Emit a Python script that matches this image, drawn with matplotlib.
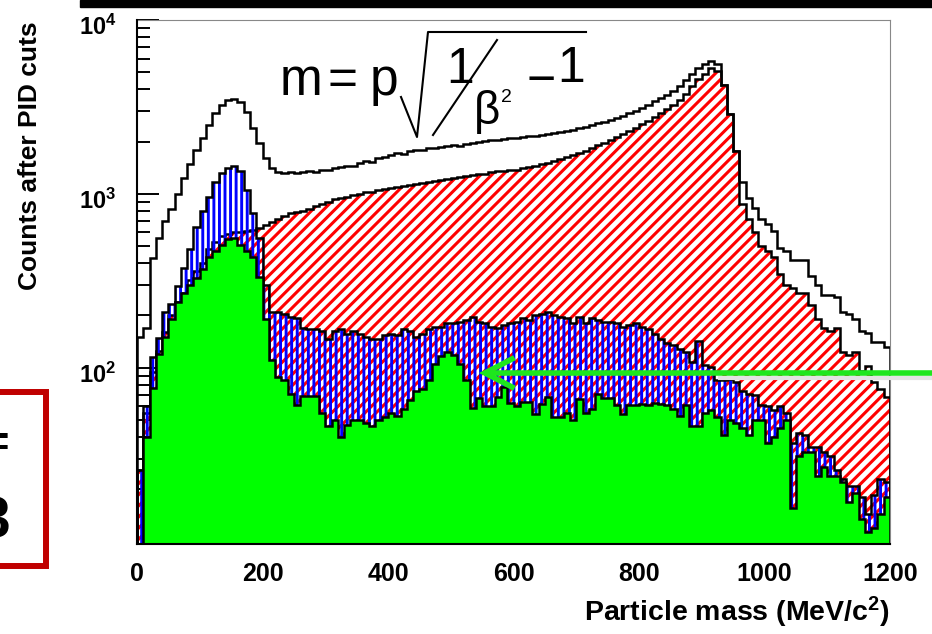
import numpy as np
import matplotlib
matplotlib.use("Agg")
import matplotlib.pyplot as plt
import matplotlib.transforms as mtransforms
from matplotlib.ticker import FixedLocator, NullFormatter
from matplotlib.lines import Line2D
from matplotlib.patches import Rectangle

plt.rcParams['font.family'] = ['Liberation Sans', 'DejaVu Sans']
plt.rcParams['mathtext.fontset'] = 'custom'
plt.rcParams['mathtext.rm'] = 'Liberation Sans'
plt.rcParams['mathtext.it'] = 'Liberation Sans:italic'
plt.rcParams['mathtext.bf'] = 'Liberation Sans:bold'
plt.rcParams['hatch.linewidth'] = 1.8

# ---- data: 10 MeV bins from 0 to 1200 MeV/c^2 ----
bin_edges = np.arange(0, 1201, 10)

total_counts = [150, 170, 430, 560, 700, 820, 1000, 1230, 1480, 1780,
                2100, 2500, 2900, 3250, 3450, 3520, 3380, 2950, 2400, 1950,
                1600, 1400, 1340, 1320, 1330, 1320, 1340, 1350, 1340, 1370,
                1380, 1400, 1420, 1450, 1440, 1500, 1540, 1530, 1600, 1640,
                1680, 1720, 1700, 1760, 1790, 1800, 1840, 1830, 1860, 1880,
                1900, 1890, 1940, 1960, 1990, 2010, 2050, 2040, 2080, 2090,
                2100, 2120, 2140, 2160, 2190, 2220, 2240, 2270, 2300, 2340,
                2390, 2440, 2480, 2540, 2590, 2660, 2740, 2820, 2910, 3000,
                3120, 3250, 3400, 3550, 3700, 3900, 4150, 4500, 4900, 5300,
                5600, 5800, 5550, 4250, 2870, 1770, 1170, 950, 830, 720,
                675, 615, 490, 467, 416, 416, 416, 338, 301, 262,
                262, 257, 209, 205, 191, 162, 158, 141, 141, 132]

red_counts = [26, 55, 95, 125, 160, 200, 240, 270, 320, 360,
              400, 480, 530, 570, 590, 600, 605, 610, 620, 635,
              660, 690, 720, 750, 780, 790, 800, 820, 850, 880,
              900, 930, 950, 960, 980, 1000, 1020, 1030, 1050, 1060,
              1080, 1094, 1110, 1130, 1140, 1160, 1170, 1180, 1200, 1220,
              1230, 1250, 1260, 1280, 1300, 1310, 1330, 1350, 1360, 1370,
              1380, 1400, 1420, 1450, 1480, 1510, 1540, 1580, 1620, 1670,
              1720, 1770, 1830, 1900, 1970, 2050, 2120, 2200, 2300, 2400,
              2520, 2640, 2760, 2900, 3060, 3250, 3450, 3750, 4150, 4550,
              4900, 5300, 5100, 4250, 2870, 1770, 870, 720, 600, 500,
              467, 436, 346, 301, 288, 269, 269, 229, 191, 170,
              162, 170, 123, 118, 123, 96, 103, 83, 76, 68]

blue_counts = [26, 60, 116, 148, 210, 234, 296, 375, 482, 648,
               797, 958, 1178, 1318, 1410, 1440, 1350, 1050, 780, 560,
               300, 210, 210, 205, 197, 193, 170, 167, 167, 163,
               147, 163, 167, 157, 163, 157, 150, 146, 147, 155,
               157, 155, 167, 163, 150, 157, 167, 171, 171, 180,
               180, 184, 188, 197, 184, 180, 171, 170, 176, 180,
               184, 193, 188, 200, 205, 210, 200, 197, 193, 180,
               197, 180, 193, 188, 184, 184, 180, 171, 176, 180,
               171, 167, 157, 147, 139, 135, 129, 124, 108, 143,
               104, 101, 85, 85, 86, 83, 74, 71, 70, 61,
               60, 57, 60, 55, 37, 42, 41, 35, 35, 33,
               31, 26, 23, 21, 21, 18, 14.5, 18.5, 23, 22]

green_counts = [0, 40, 77, 120, 150, 190, 240, 270, 300, 330,
                370, 436, 470, 510, 550, 560, 510, 470, 436, 333,
                190, 111, 88, 85, 71, 61, 69, 69, 69, 55,
                46, 50, 40, 47, 50, 50, 48, 46, 50, 52,
                55, 53, 58, 65, 74, 76, 85, 105, 117, 123,
                118, 105, 85, 59, 67, 60, 60, 68, 78, 63,
                60, 64, 64, 54, 62, 68, 52, 52, 55, 50,
                66, 55, 58, 71, 67, 67, 61, 54, 61, 61,
                62, 61, 63, 62, 61, 58, 53, 61, 46, 46,
                55, 57, 52, 41, 50, 48, 45, 41, 50, 50,
                37, 40, 45, 50, 15.6, 31, 33, 33, 24, 27,
                24, 24, 22, 17, 19, 13.5, 11.3, 12, 14.5, 18]

x_tick_values = [0, 200, 400, 600, 800, 1000, 1200]
y_tick_values = [100, 1000, 10000]
y_tick_labels = [r'$\mathbf{10^{2}}$', r'$\mathbf{10^{3}}$', r'$\mathbf{10^{4}}$']

W, H = 932, 634
fig = plt.figure(figsize=(W / 100, H / 100), dpi=100)
fig.patch.set_facecolor('white')


def fx(x):
    return x / W


def fy(y):
    return 1 - y / H


ax = fig.add_axes([fx(137), fy(544), fx(890) - fx(137), fy(20) - fy(544)])
ax.set_yscale('log')
ax.set_xlim(0, 1200)
ax.set_ylim(9.7, 10000)

BASE = 1.0


def clean(v):
    v = np.asarray(v, dtype=float)
    return np.where(v > 0, v, BASE)


outline_lw = 1.8
ax.stairs(clean(total_counts), bin_edges, baseline=BASE, color='black', lw=outline_lw, zorder=2)
with plt.rc_context({'hatch.linewidth': 2.2}):
    ax.stairs(clean(red_counts), bin_edges, baseline=BASE, fill=True, facecolor='none',
              edgecolor='#ff0000', hatch='///', linewidth=0, zorder=3)
ax.stairs(clean(red_counts), bin_edges, baseline=BASE, color='black', lw=outline_lw, zorder=4)
with plt.rc_context({'hatch.linewidth': 2.1}):
    ax.stairs(clean(blue_counts), bin_edges, baseline=BASE, fill=True, facecolor='none',
              edgecolor='#0000ff', hatch='|||', linewidth=0, zorder=5)
ax.stairs(clean(blue_counts), bin_edges, baseline=BASE, color='black', lw=outline_lw, zorder=6)
ax.stairs(clean(green_counts), bin_edges, baseline=BASE, fill=True, facecolor='#00ff00',
          edgecolor='none', linewidth=0, zorder=7)
ax.stairs(clean(green_counts), bin_edges, baseline=BASE, color='black', lw=outline_lw, zorder=8)

for s in ['top', 'right']:
    ax.spines[s].set_color('#888888')
    ax.spines[s].set_linewidth(0.8)
for s in ['left', 'bottom']:
    ax.spines[s].set_color('black')
    ax.spines[s].set_linewidth(1.5)
    ax.spines[s].set_zorder(20)

ax.set_xticks(x_tick_values)
ax.set_xticklabels([str(v) for v in x_tick_values], fontsize=18, fontweight='bold')
ax.xaxis.set_minor_locator(FixedLocator(np.arange(50, 1200, 50)))
ax.yaxis.set_major_locator(FixedLocator(y_tick_values))
ax.set_yticklabels(y_tick_labels, fontsize=17)
minor_y = [m * d for d in (10, 100, 1000) for m in range(2, 10)]
ax.yaxis.set_minor_locator(FixedLocator(minor_y))
ax.yaxis.set_minor_formatter(NullFormatter())
ax.tick_params(axis='x', which='major', direction='in', length=11, width=1.4, pad=13, top=False)
ax.tick_params(axis='x', which='minor', direction='in', length=6, width=1.4, top=False)
ax.tick_params(axis='y', which='major', direction='in', length=16, width=1.4, pad=15, right=False)
ax.tick_params(axis='y', which='minor', direction='in', length=9, width=1.4, right=False)
for t in ax.get_xticklines() + ax.get_yticklines():
    t.set_zorder(21)
shift = mtransforms.ScaledTranslation(0, -5 / 100, fig.dpi_scale_trans)
for lab in ax.get_yticklabels():
    lab.set_transform(lab.get_transform() + shift)

# axis titles
fig.text(fx(30), fy(21), 'Counts after PID cuts', rotation=90, ha='center', va='top',
         fontsize=19, fontweight='bold')
fig.text(fx(890), fy(612), r'Particle mass (MeV/c$^{\mathbf{2}}$)', ha='right', va='center',
         fontsize=20.5, fontweight='bold')

# formula
fs = 36
fig.text(fx(280), fy(95), 'm', fontsize=37, ha='left', va='baseline')
fig.text(fx(342), fy(95), '=', fontsize=37, ha='center', va='baseline')
fig.text(fx(370), fy(95), 'p', fontsize=37, ha='left', va='baseline')
fig.text(fx(460), fy(83), '1', fontsize=fs, ha='center', va='baseline')
fig.text(fx(487), fy(124), '\u03b2', fontsize=33, ha='center', va='baseline')
fig.text(fx(506), fy(102), '2', fontsize=14, ha='center', va='baseline')
fig.text(fx(541), fy(95), '\u2212', fontsize=fs, ha='center', va='baseline')
fig.text(fx(571), fy(82), '1', fontsize=fs, ha='center', va='baseline')
fig.add_artist(Line2D([fx(401), fx(417), fx(428), fx(586)], [fy(97), fy(137), fy(32), fy(32)],
                      color='black', lw=1.5, transform=fig.transFigure))
fig.add_artist(Line2D([fx(433), fx(497)], [fy(135), fy(40)], color='black', lw=1.5,
                      transform=fig.transFigure))

# black bar at top
fig.add_artist(Rectangle((fx(80), fy(7)), 1 - fx(80), 7 / H, color='black',
                         transform=fig.transFigure, zorder=30))

# red box on the left with clipped text
fig.add_artist(Rectangle((fx(-40), fy(565.5)), fx(86.3), (565.5 - 391.5) / H, fill=False,
                         edgecolor='#c00000', lw=4.3, transform=fig.transFigure, zorder=30))
fig.text(fx(9), fy(445), '=', fontsize=30, fontweight='bold', ha='right', va='center')
fig.text(fx(10), fy(538), '3', fontsize=41, fontweight='bold', ha='right', va='baseline')

# green arrow with soft shadow
fig.add_artist(Line2D([fx(720), fx(940)], [fy(378), fy(378)], color='#e2e2e2', lw=3.0,
                      transform=fig.transFigure, zorder=30))
fig.add_artist(Line2D([fx(487), fx(940)], [fy(373), fy(373)], color='#1ee61e', lw=4.0,
                      transform=fig.transFigure, zorder=31))
fig.add_artist(Line2D([fx(512), fx(485), fx(512)], [fy(359), fy(373), fy(387)], color='#1ee61e',
                      lw=4.0, transform=fig.transFigure, zorder=31, solid_joinstyle='miter'))

fig.savefig('out.png', dpi=100)
